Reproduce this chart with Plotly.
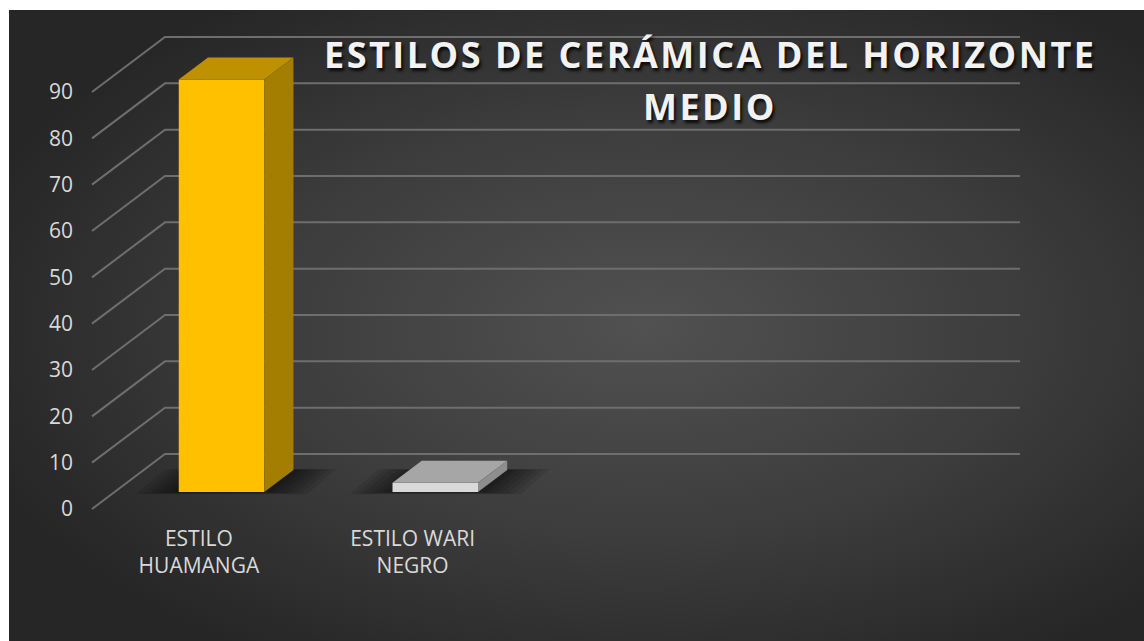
import base64
import plotly.graph_objects as go

# ---- data -------------------------------------------------------------
categories = ["ESTILO<br>HUAMANGA", "ESTILO WARI<br>NEGRO"]
values = [89, 2]
y_ticks = [0, 10, 20, 30, 40, 50, 60, 70, 80, 90]
title_lines = ["ESTILOS DE CERÁMICA DEL HORIZONTE", "MEDIO"]

# ---- styling ----------------------------------------------------------
front_colors = ["#FFC000", "#D9D9D9"]
top_colors = ["#BF9000", "#A6A6A6"]
side_colors = ["#A37E00", "#8E8E8E"]
TEXT = "#D9D9D9"
GRID = "#6E6E6E"
FONT = "Open Sans"

# ---- oblique 3D projection set-up --------------------------------------
W, H = 1144, 641
N_SLOTS = 4                      # category slots along the floor
PX_CAT = 213.75                  # pixels per category slot
PX_VAL = 417 / 90                # pixels per value unit
ORIGIN_PX = (92, 509)            # front-left floor corner
DX = 73 / PX_CAT                 # depth offset, x units
DY = 55 / PX_VAL                 # depth offset, y units
BAR_W = 0.4
D0, D1 = 0.31, 0.71              # bar depth extent (fraction of floor depth)

M_L, M_R, M_T, M_B = 80, 112, 25, 120
plot_w = W - M_L - M_R
plot_h = H - M_T - M_B
x_min = -(ORIGIN_PX[0] - M_L) / PX_CAT
x_range = [x_min, x_min + plot_w / PX_CAT]
y_min = -((H - M_B) - ORIGIN_PX[1]) / PX_VAL
y_range = [y_min, y_min + plot_h / PX_VAL]


def px_to_paper(px, py):
    return (px - M_L) / plot_w, ((H - M_B) - py) / plot_h


def poly_path(xs, ys):
    pts = " L ".join(f"{x},{y}" for x, y in zip(xs, ys))
    return f"M {pts} Z"


fig = go.Figure()
shapes = []

# walls: diagonal side lines plus back-wall gridlines (behind the columns)
x_back_end = N_SLOTS + DX
for v in y_ticks:
    shapes.append(dict(type="path", xref="x", yref="y", layer="below",
                       path=f"M 0,{v} L {DX},{v + DY} L {x_back_end},{v + DY}",
                       line=dict(color=GRID, width=2)))

# soft floor shadows under each column
for i, v in enumerate(values):
    xl, xr = i + 0.5 - BAR_W / 2, i + 0.5 + BAR_W / 2
    for grow in [0.20, 0.17, 0.14, 0.11, 0.08, 0.05, 0.03]:
        ex, ey = grow, grow * 7
        xs = [xl - ex + D0 * DX, xr + ex + D0 * DX,
              xr + ex + D1 * DX, xl - ex + D1 * DX]
        ys = [D0 * DY - ey * 0.35, D0 * DY - ey * 0.35,
              D1 * DY + ey * 0.15, D1 * DY + ey * 0.15]
        shapes.append(dict(type="path", xref="x", yref="y", layer="below",
                           path=poly_path(xs, ys),
                           fillcolor="rgba(0,0,0,0.09)",
                           line=dict(width=0)))

# column front faces
fig.add_trace(go.Bar(
    x=[i + 0.5 + D0 * DX for i in range(len(values))],
    y=values, base=D0 * DY, width=BAR_W,
    marker=dict(color=front_colors, line=dict(width=0)),
    hoverinfo="skip", showlegend=False))

# column top and side faces
for i, v in enumerate(values):
    xl, xr = i + 0.5 - BAR_W / 2, i + 0.5 + BAR_W / 2
    top_x = [xl + D0 * DX, xr + D0 * DX, xr + D1 * DX, xl + D1 * DX, xl + D0 * DX]
    top_y = [v + D0 * DY, v + D0 * DY, v + D1 * DY, v + D1 * DY, v + D0 * DY]
    fig.add_trace(go.Scatter(
        x=top_x, y=top_y, mode="lines", fill="toself",
        line=dict(width=0), fillcolor=top_colors[i],
        hoverinfo="skip", showlegend=False))
    side_x = [xr + D0 * DX, xr + D1 * DX, xr + D1 * DX, xr + D0 * DX, xr + D0 * DX]
    side_y = [D0 * DY, D1 * DY, v + D1 * DY, v + D0 * DY, D0 * DY]
    fig.add_trace(go.Scatter(
        x=side_x, y=side_y, mode="lines", fill="toself",
        line=dict(width=0), fillcolor=side_colors[i],
        hoverinfo="skip", showlegend=False))

# dark radial-gradient chart area
bg_left, bg_top, bg_w, bg_h = 9, 10, 1135, 631
svg = (
    f'<svg xmlns="http://www.w3.org/2000/svg" width="{bg_w}" height="{bg_h}" '
    f'viewBox="0 0 {bg_w} {bg_h}" preserveAspectRatio="none">'
    '<defs><radialGradient id="g" cx="0.56" cy="0.5" r="0.62">'
    '<stop offset="0" stop-color="#515151"/>'
    '<stop offset="0.55" stop-color="#3C3C3C"/>'
    '<stop offset="1" stop-color="#262626"/>'
    '</radialGradient></defs>'
    f'<rect width="{bg_w}" height="{bg_h}" fill="url(#g)"/></svg>'
)
bg_uri = "data:image/svg+xml;base64," + base64.b64encode(svg.encode()).decode()
bx, by = px_to_paper(bg_left, bg_top)

# title, two centred lines
title_font = dict(family=FONT, size=36, color="#F2F2F2", weight="bold",
                  shadow="2px 3px 3px rgba(0,0,0,0.8)")
annotations = []
for line, py in zip(title_lines, [55, 106]):
    ax, ay = px_to_paper(710, py)
    annotations.append(dict(
        text=f'<span style="letter-spacing:2.5px">{line}</span>',
        x=ax, y=ay, xref="paper", yref="paper",
        xanchor="center", yanchor="middle", showarrow=False,
        font=title_font))

fig.update_layout(
    width=W, height=H,
    margin=dict(l=M_L, r=M_R, t=M_T, b=M_B),
    paper_bgcolor="white",
    plot_bgcolor="rgba(0,0,0,0)",
    barmode="overlay",
    showlegend=False,
    font=dict(family=FONT, color=TEXT, size=21),
    images=[dict(source=bg_uri, xref="paper", yref="paper",
                 x=bx, y=by, sizex=bg_w / plot_w, sizey=bg_h / plot_h,
                 xanchor="left", yanchor="top", sizing="stretch",
                 layer="below")],
    shapes=shapes,
    annotations=annotations,
    xaxis=dict(range=x_range, tickvals=[i + 0.5 for i in range(len(categories))],
               ticktext=categories, showgrid=False, zeroline=False,
               showline=False, ticks="", ticklabelstandoff=3,
               tickfont=dict(family=FONT, size=21, color=TEXT),
               fixedrange=True),
    yaxis=dict(range=y_range, tickvals=y_ticks,
               ticktext=[str(t) for t in y_ticks],
               showgrid=False, zeroline=False, showline=False, ticks="",
               ticklabelstandoff=6,
               tickfont=dict(family=FONT, size=21, color=TEXT),
               fixedrange=True),
)

fig.write_html("out.html")
